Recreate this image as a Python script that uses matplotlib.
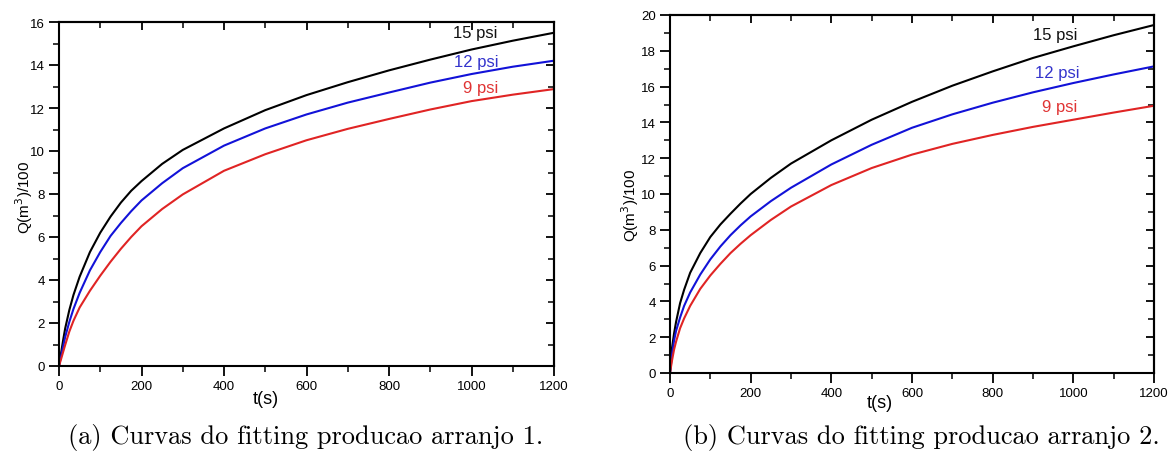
import matplotlib
matplotlib.use("Agg")
import matplotlib.pyplot as plt
from matplotlib.ticker import MultipleLocator

plt.rcParams["font.family"] = ["Liberation Sans", "DejaVu Sans"]

# Time samples (s)
t = [0, 5, 10, 15, 25, 35, 50, 75, 100, 125, 150, 175, 200, 250, 300,
     400, 500, 600, 700, 800, 900, 1000, 1100, 1200]

# Arranjo 1: fitted production Q(m3)/100
a1_15psi = [0, 0.6, 1.2, 1.75, 2.6, 3.3, 4.15, 5.3, 6.2, 6.95, 7.6, 8.15, 8.6, 9.4, 10.05,
            11.05, 11.9, 12.6, 13.2, 13.75, 14.25, 14.72, 15.13, 15.5]
a1_12psi = [0, 0.45, 0.9, 1.35, 2.05, 2.65, 3.4, 4.45, 5.3, 6.05, 6.65, 7.2, 7.7, 8.5, 9.2,
            10.25, 11.05, 11.7, 12.25, 12.72, 13.18, 13.58, 13.92, 14.2]
a1_9psi = [0, 0.32, 0.65, 0.98, 1.6, 2.1, 2.72, 3.5, 4.2, 4.85, 5.45, 6.0, 6.5, 7.3, 7.98,
           9.08, 9.85, 10.5, 11.03, 11.49, 11.93, 12.32, 12.62, 12.88]

# Arranjo 2: fitted production Q(m3)/100
a2_15psi = [0, 1.4, 2.2, 2.85, 3.9, 4.65, 5.6, 6.7, 7.6, 8.3, 8.9, 9.47, 10.0, 10.9, 11.7,
            13.0, 14.15, 15.15, 16.05, 16.85, 17.6, 18.25, 18.87, 19.44]
a2_12psi = [0, 1.0, 1.8, 2.35, 3.1, 3.75, 4.5, 5.5, 6.35, 7.07, 7.7, 8.25, 8.75, 9.6, 10.35,
            11.65, 12.75, 13.7, 14.45, 15.1, 15.68, 16.2, 16.68, 17.13]
a2_9psi = [0, 0.7, 1.3, 1.75, 2.5, 3.05, 3.75, 4.7, 5.45, 6.1, 6.7, 7.22, 7.7, 8.55, 9.3,
           10.5, 11.45, 12.2, 12.8, 13.3, 13.75, 14.15, 14.55, 14.93]

series_labels = ["15 psi", "12 psi", "9 psi"]
line_colors = ["#000000", "#1212d8", "#e02424"]
text_colors = ["#111111", "#3434cc", "#e03434"]

captions = ["(a) Curvas do fitting producao arranjo 1.",
            "(b) Curvas do fitting producao arranjo 2."]

W, H = 1171, 452
fig = plt.figure(figsize=(W / 100, H / 100), dpi=100)

panels = [
    dict(rect=[59 / W, 1 - 367 / H, 495 / W, 344 / H], ymax=16,
         data=[a1_15psi, a1_12psi, a1_9psi],
         label_pos=[(1010, 15.5), (1012, 14.15), (1022, 12.95)],
         xlab=(266, 400), ylab=(24, 197), cap=(306, 438)),
    dict(rect=[670 / W, 1 - 374 / H, 484 / W, 358 / H], ymax=20,
         data=[a2_15psi, a2_12psi, a2_9psi],
         label_pos=[(955, 18.9), (960, 16.8), (967, 14.9)],
         xlab=(880, 404), ylab=(630, 205), cap=(921, 438)),
]

for i, p in enumerate(panels):
    ax = fig.add_axes(p["rect"])
    for vals, c in zip(p["data"], line_colors):
        ax.plot(t, vals, color=c, lw=1.5, solid_capstyle="round", solid_joinstyle="round")
    for (x, y), s, c in zip(p["label_pos"], series_labels, text_colors):
        ax.text(x, y, s, color=c, fontsize=12, ha="center", va="center")

    ax.set_xlim(0, 1200)
    ax.set_ylim(0, p["ymax"])
    ax.xaxis.set_major_locator(MultipleLocator(200))
    ax.xaxis.set_minor_locator(MultipleLocator(100))
    ax.yaxis.set_major_locator(MultipleLocator(2))
    ax.yaxis.set_minor_locator(MultipleLocator(1))
    ax.tick_params(which="major", direction="out", length=7, width=1.3,
                   labelsize=9.5, pad=3, top=False, right=False)
    ax.tick_params(which="minor", direction="out", length=4, width=1.1,
                   top=False, right=False)
    for sp in ax.spines.values():
        sp.set_linewidth(1.5)

    # mirrored ticks pointing inward on the top and right frames
    top = ax.secondary_xaxis("top")
    top.xaxis.set_major_locator(MultipleLocator(200))
    top.xaxis.set_minor_locator(MultipleLocator(100))
    top.tick_params(which="major", direction="in", length=6, width=1.3, labeltop=False)
    top.tick_params(which="minor", direction="in", length=4, width=1.1)
    right = ax.secondary_yaxis("right")
    right.yaxis.set_major_locator(MultipleLocator(2))
    right.yaxis.set_minor_locator(MultipleLocator(1))
    right.tick_params(which="major", direction="in", length=6, width=1.3, labelright=False)
    right.tick_params(which="minor", direction="in", length=4, width=1.1)
    for sp in list(top.spines.values()) + list(right.spines.values()):
        sp.set_linewidth(1.5)

    fig.text(p["ylab"][0] / W, 1 - p["ylab"][1] / H, "Q(m$^3$)/100",
             rotation=90, fontsize=11, ha="center", va="center")
    fig.text(p["xlab"][0] / W, 1 - p["xlab"][1] / H, "t(s)",
             fontsize=13, ha="center", va="center")
    fig.text(p["cap"][0] / W, 1 - p["cap"][1] / H, captions[i],
             family="cmr10", fontsize=19, ha="center", va="center")

fig.savefig("out.png", dpi=100)
